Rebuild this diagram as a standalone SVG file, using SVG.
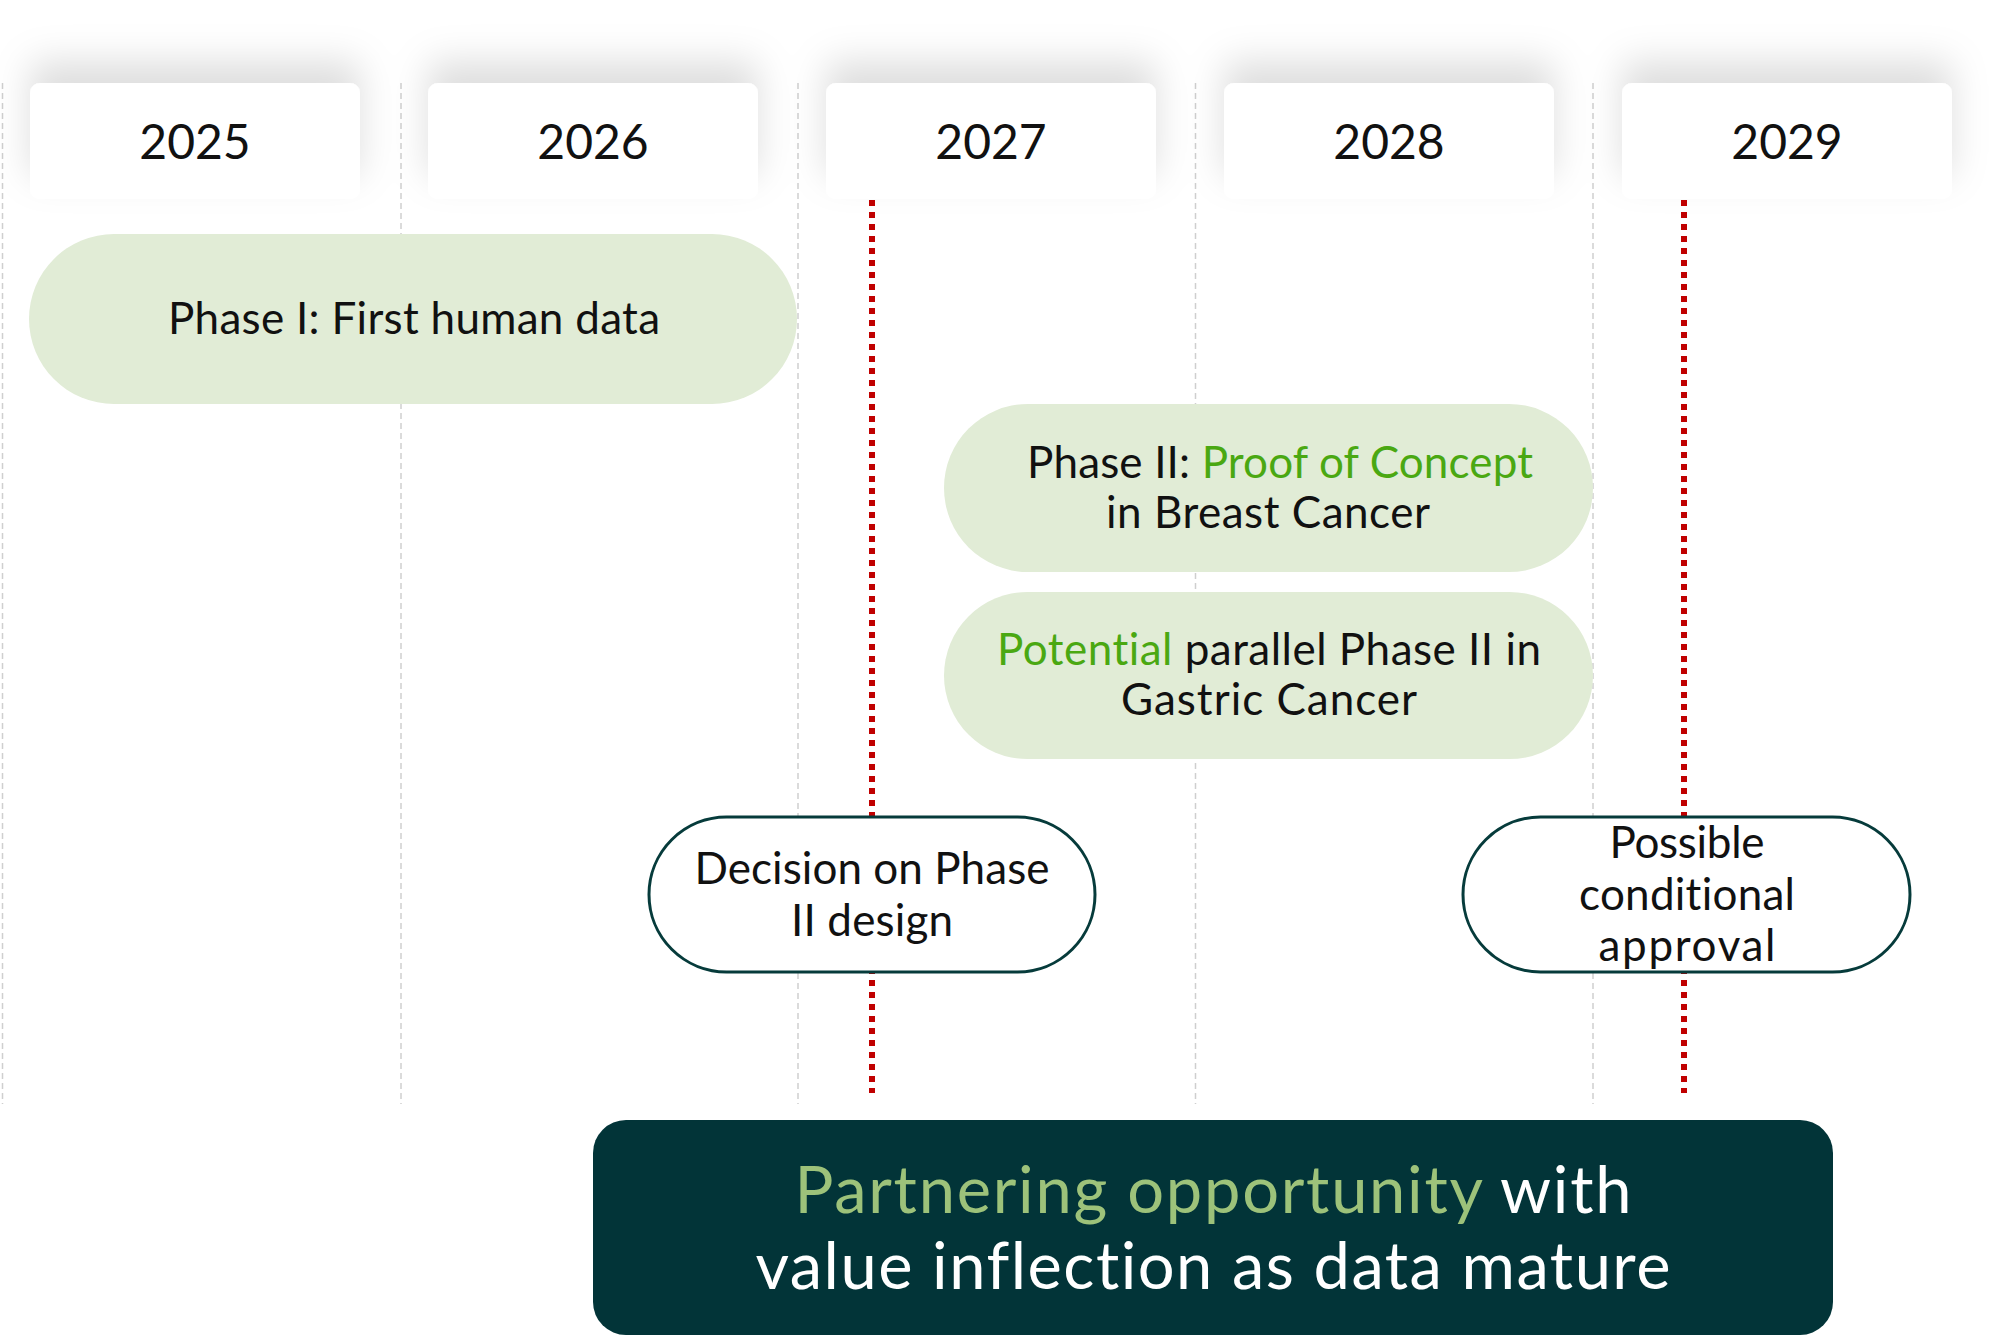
<svg xmlns="http://www.w3.org/2000/svg" width="1990" height="1335" viewBox="0 0 1990 1335">
<defs>
<filter id="sh" x="-20%" y="-100%" width="140%" height="260%">
<feGaussianBlur in="SourceAlpha" stdDeviation="18"/>
<feOffset dy="-22" result="b"/>
<feFlood flood-color="#000" flood-opacity="0.13"/>
<feComposite in2="b" operator="in"/>
<feMerge><feMergeNode/><feMergeNode in="SourceGraphic"/></feMerge>
</filter>
<style>
.t{font-family:Lato,"Liberation Sans",sans-serif;fill:#111;text-anchor:middle;font-variant-ligatures:none}
.yr{font-size:48px}
.p{font-size:44px}
.g{fill:#4aa812}
.lg{fill:#9dc27a}
.w{fill:#ffffff}
.big{font-size:65px}
.pill{fill:#e1ecd6}
.ms{fill:#ffffff;stroke:#063b3b;stroke-width:3}
.grid{stroke:#cfcfcf;stroke-width:1.5;stroke-dasharray:6 4;fill:none}
.red{stroke:#c00000;stroke-width:6;stroke-dasharray:6 6;fill:none}
.yb{fill:#ffffff}
</style>
</defs>
<rect width="1990" height="1335" fill="#ffffff"/>
<g id="grid">
<line class="grid" x1="2.5" y1="83" x2="2.5" y2="1104"/>
<line class="grid" x1="401" y1="83" x2="401" y2="1104"/>
<line class="grid" x1="798" y1="83" x2="798" y2="1104"/>
<line class="grid" x1="1195.5" y1="83" x2="1195.5" y2="1104"/>
<line class="grid" x1="1593" y1="83" x2="1593" y2="1104"/>
</g>
<g id="years" filter="url(#sh)">
<rect class="yb" x="30" y="83" width="330" height="116" rx="10"/>
<rect class="yb" x="428" y="83" width="330" height="116" rx="10"/>
<rect class="yb" x="826" y="83" width="330" height="116" rx="10"/>
<rect class="yb" x="1224" y="83" width="330" height="116" rx="10"/>
<rect class="yb" x="1622" y="83" width="330" height="116" rx="10"/>
</g>
<g id="year-labels">
<text class="t yr" x="195" y="159">2025</text>
<text class="t yr" x="593" y="159">2026</text>
<text class="t yr" x="991" y="159">2027</text>
<text class="t yr" x="1389" y="159">2028</text>
<text class="t yr" x="1787" y="159">2029</text>
</g>
<g id="connectors">
<line class="red" x1="872" y1="200" x2="872" y2="1093"/>
<line class="red" x1="1684" y1="200" x2="1684" y2="1093"/>
</g>
<g id="phase1">
<rect class="pill" x="29" y="234" width="768" height="170" rx="85"/>
<text class="t p" x="414" y="334" textLength="492" lengthAdjust="spacing">Phase I: First human data</text>
</g>
<g id="phase2-breast">
<rect class="pill" x="944" y="404" width="649" height="168" rx="84"/>
<text class="t p" x="1280" y="478" textLength="506" lengthAdjust="spacing">Phase II: <tspan class="g">Proof of Concept</tspan></text>
<text class="t p" x="1268" y="528" textLength="324" lengthAdjust="spacing">in Breast Cancer</text>
</g>
<g id="phase2-gastric">
<rect class="pill" x="944" y="592" width="649" height="167" rx="83.5"/>
<text class="t p" x="1269" y="665" textLength="544" lengthAdjust="spacing"><tspan class="g">Potential</tspan> parallel Phase II in</text>
<text class="t p" x="1269" y="715" textLength="296" lengthAdjust="spacing">Gastric Cancer</text>
</g>
<g id="decision">
<rect class="ms" x="649" y="817" width="446" height="155" rx="77.5"/>
<text class="t p" x="872" y="884" textLength="355" lengthAdjust="spacing">Decision on Phase</text>
<text class="t p" x="872" y="936" textLength="162" lengthAdjust="spacing">II design</text>
</g>
<g id="approval">
<rect class="ms" x="1463" y="817" width="447" height="155" rx="77.5"/>
<text class="t p" x="1687" y="858" textLength="155" lengthAdjust="spacing">Possible</text>
<text class="t p" x="1687" y="910" textLength="216" lengthAdjust="spacing">conditional</text>
<text class="t p" x="1687" y="961" textLength="177" lengthAdjust="spacing">approval</text>
</g>
<g id="partnering">
<rect x="593" y="1120" width="1240" height="215" rx="33" fill="#023438"/>
<text class="t big w" x="1213" y="1213" textLength="837" lengthAdjust="spacing"><tspan class="lg">Partnering opportunity</tspan> with</text>
<text class="t big w" x="1213" y="1289" textLength="915" lengthAdjust="spacing">value inflection as data mature</text>
</g>
</svg>
